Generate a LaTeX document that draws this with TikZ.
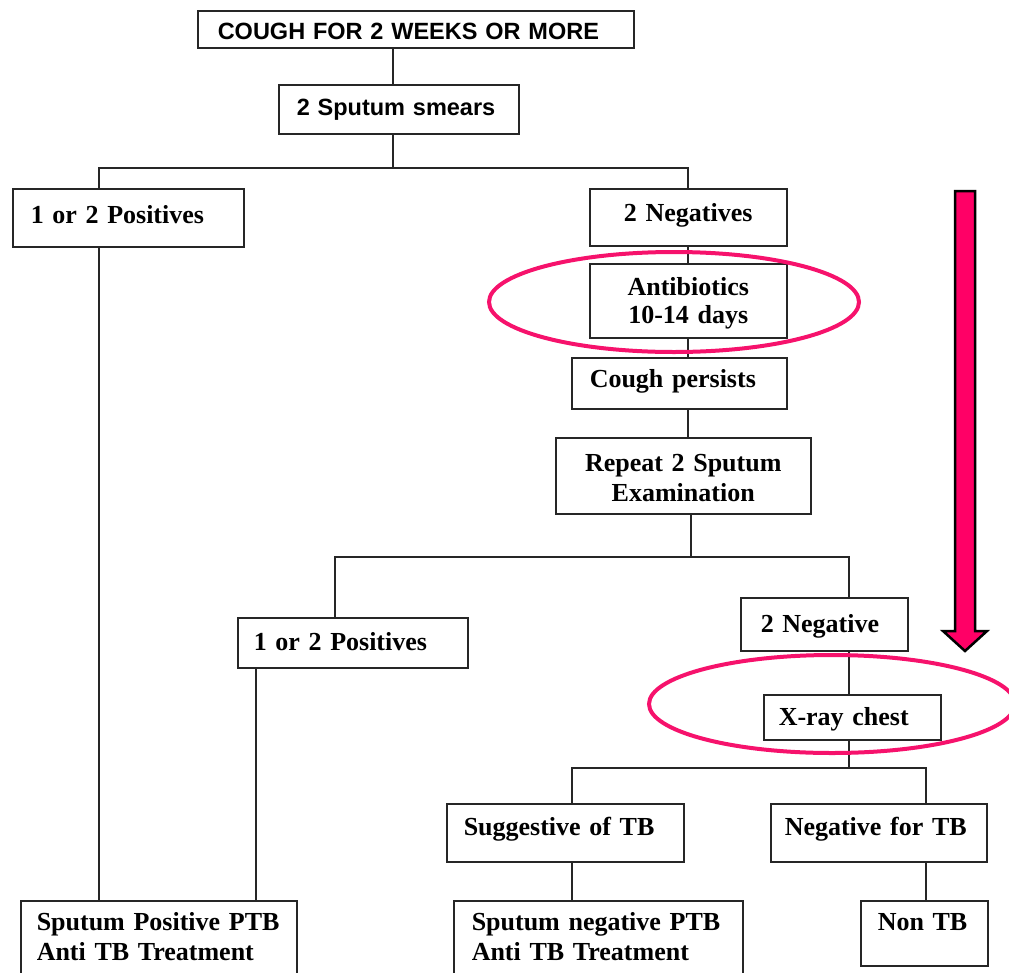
\documentclass[tikz,border=0pt]{standalone}
\usepackage{fontspec}
\setmainfont{Liberation Serif}
\newfontfamily\myarialfam{Liberation Sans}
\newcommand\mytbfont{\fontsize{26}{30}\selectfont\bfseries\spaceskip=0.17em\relax}
\newcommand\mytbfontb{\fontsize{26}{28}\selectfont\bfseries\spaceskip=0.17em\relax}
\newcommand\myarialfont{\myarialfam\fontsize{23.5}{28}\selectfont\bfseries}
\definecolor{tbpink}{RGB}{255,0,102}
\definecolor{ellpink}{RGB}{246,18,108}
\tikzset{
  ln/.style={draw=black!85, line width=1.5pt},
  bx/.style={draw=black!85, line width=1.5pt, rectangle, anchor=north west,
    inner ysep=0pt, align=left, font=\mytbfont},
  geom/.style n args={5}{minimum width=#1pt, inner xsep=#2pt, text width=#3pt,
    text height=#4pt, text depth=#5pt},
  ellp/.style={draw=ellpink, line width=4pt},
  bigarrow/.style={draw=black, line width=2.5pt, fill=tbpink, line join=miter}
}
\begin{document}
\begin{tikzpicture}[x=1pt,y=-1pt]
\useasboundingbox (0,0) rectangle (1009,972);
\clip (0,0) rectangle (1009,972);
% boxes
\node[bx, font=\myarialfont, geom={436}{20}{396}{29}{8}] (cough) at (197,10) {COUGH FOR 2 WEEKS OR MORE};
\node[bx, font=\myarialfont, geom={240}{18}{204}{31}{18}] (smear) at (278,84) {2 Sputum smears};
\node[bx, geom={231}{18}{195}{35}{23}] (pos1) at (12,188) {1 or 2 Positives};
\node[bx, align=center, geom={197}{10}{177}{33}{24}] (neg1) at (589,188) {2 Negatives};
\node[bx, align=center, font=\mytbfontb, geom={197}{10}{177}{32}{42}] (anti) at (589,263) {Antibiotics\\ 10-14 days};
\node[bx, geom={215}{18}{179}{30}{21}] (persist) at (571,357) {Cough persists};
\node[bx, align=center, geom={255}{10}{235}{34}{42}] (repeat) at (555,437) {Repeat 2 Sputum\\ Examination};
\node[bx, geom={230}{16}{198}{33}{17}] (pos2) at (237,617) {1 or 2 Positives};
\node[bx, geom={167}{20}{127}{35}{18}] (neg2) at (740,597) {2 Negative};
\node[bx, geom={177}{15}{147}{31}{14}] (xray) at (763,694) {X-ray chest};
\node[bx, geom={237}{17}{203}{32}{26}] (sugg) at (446,803) {Suggestive of TB};
\node[bx, geom={216}{14}{188}{32}{26}] (negtb) at (770,803) {Negative for TB};
\node[bx, geom={276}{16}{244}{30}{55}] (sppos) at (20,900) {Sputum Positive PTB\\ Anti TB Treatment};
\node[bx, geom={289}{18}{253}{30}{55}] (spneg) at (453,900) {Sputum negative PTB\\ Anti TB Treatment};
\node[bx, geom={127}{17}{93}{30}{35}] (nontb) at (860,900) {Non TB};
% junction coordinates
\coordinate (xa) at (393,168);
\coordinate (xl1) at (99,168);
\coordinate (xr1) at (688,168);
\coordinate (xb) at (691,557);
\coordinate (xl2) at (335,557);
\coordinate (xr2) at (849,557);
\coordinate (xp2) at (256,700);
\coordinate (xc) at (849,768);
\coordinate (xl3) at (572,768);
\coordinate (xr3) at (926,768);
% connectors
\draw[ln] (xa |- cough.south) -- (xa |- smear.north);
\draw[ln] (xa |- smear.south) -- (xa);
\draw[ln] (xl1 |- pos1.north) -- (xl1) -- (xr1) -- (xr1 |- neg1.north);
\draw[ln] (xr1 |- neg1.south) -- (xr1 |- anti.north);
\draw[ln] (xr1 |- anti.south) -- (xr1 |- persist.north);
\draw[ln] (xr1 |- persist.south) -- (xr1 |- repeat.north);
\draw[ln] (xl1 |- pos1.south) -- (xl1 |- sppos.north);
\draw[ln] (xb |- repeat.south) -- (xb);
\draw[ln] (xl2 |- pos2.north) -- (xl2) -- (xr2) -- (xr2 |- neg2.north);
\draw[ln] (xp2 |- pos2.south) -- (xp2 |- sppos.north);
\draw[ln] (xr2 |- neg2.south) -- (xr2 |- xray.north);
\draw[ln] (xc |- xray.south) -- (xc);
\draw[ln] (xl3 |- sugg.north) -- (xl3) -- (xr3) -- (xr3 |- negtb.north);
\draw[ln] (xl3 |- sugg.south) -- (xl3 |- spneg.north);
\draw[ln] (xr3 |- negtb.south) -- (xr3 |- nontb.north);
% highlight ellipses
\draw[ellp] (674,302) ellipse [x radius=185, y radius=50];
\draw[ellp] (832,704) ellipse [x radius=183, y radius=49];
% big arrow
\draw[bigarrow] (955,191) -- (975,191) -- (975,631) -- (987,631) -- (965,651)
  -- (943,631) -- (955,631) -- cycle;
\end{tikzpicture}
\end{document}
